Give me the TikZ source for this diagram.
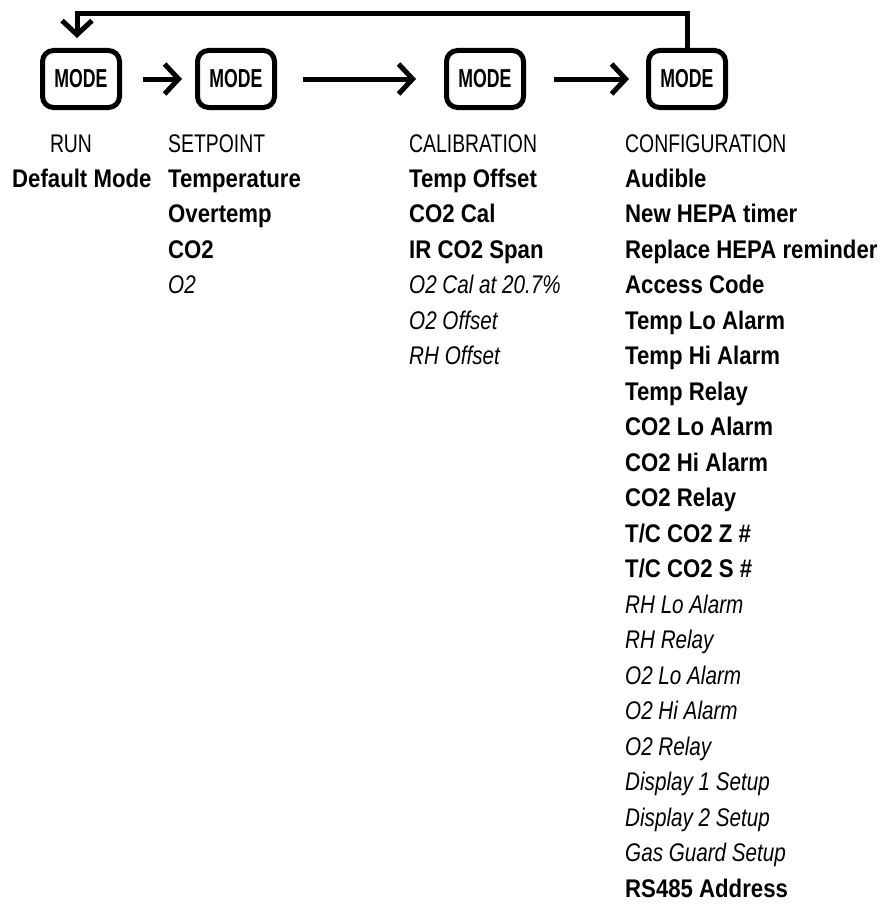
\documentclass[tikz,border=0pt]{standalone}
\usepackage{fontspec}
\usetikzlibrary{arrows.meta,positioning}
\newfontfamily\headfont[FakeStretch=0.76]{Liberation Sans}
\newfontfamily\stdfont[FakeStretch=0.87]{Liberation Sans}
\newfontfamily\optfont[FakeStretch=0.81]{Liberation Sans}
\newfontfamily\keyfont[FakeStretch=0.68]{Liberation Sans}
\begin{document}
\begin{tikzpicture}[
		x=1pt, y=-1pt,
		mode/.style={draw, line width=5pt, rounded corners=11pt, minimum width=77pt, minimum height=57pt, inner sep=0pt, font=\keyfont\bfseries\fontsize{26}{26}\selectfont},
		flow/.style={draw, line width=5pt, -{Straight Barb[length=14pt, width=30pt]}},
		head/.style={inner sep=0pt, font=\headfont\fontsize{25.5}{30}\selectfont},
		std/.style={anchor=base west, inner sep=0pt, font=\stdfont\bfseries\fontsize{25.5}{30}\selectfont},
		opt/.style={anchor=base west, inner sep=0pt, font=\optfont\itshape\fontsize{25.5}{30}\selectfont},
		]
		\useasboundingbox (0,0) rectangle (889,907);

		% mode keys
		\node [mode] (run) at (81,79) {MODE};
		\node [mode] (setpoint) at (236,79) {MODE};
		\node [mode] (calibration) at (485,79) {MODE};
		\node [mode] (configuration) at (687,79) {MODE};

		\draw [flow] ([xshift=21pt]run.east) -- ([xshift=-13pt]setpoint.west);
		\draw [flow] ([xshift=26pt]setpoint.east) -- ([xshift=-28pt]calibration.west);
		\draw [flow] ([xshift=28pt]calibration.east) -- ([xshift=-17pt]configuration.west);

		% back to run
		\coordinate (back) at ([xshift=-4pt, yshift=34pt]run.north);
		\draw [flow] (configuration.north) |- (back) -- ([xshift=-4pt, yshift=10pt]run.north);

		% headings
		\node [head, anchor=base] (runhead) at (71,152) {RUN};
		\node [head, anchor=base west] (sethead) at (168,152) {SETPOINT};
		\node [head, anchor=base west] (calhead) at (409,152) {CALIBRATION};
		\node [head, anchor=base west] (cfghead) at (625,152) {CONFIGURATION};

		% menu items
		\node [std] (run1) at (12,187) {Default Mode};

		\foreach \t/\s [count=\i from 0] in {Temperature/std, Overtemp/std, CO2/std, O2/opt}
			\node [\s] (set\i) at (168,{187+35.5*\i}) {\t};

		\foreach \t/\s [count=\i from 0] in {Temp Offset/std, CO2 Cal/std, IR CO2 Span/std,
			O2 Cal at 20.7\%/opt, O2 Offset/opt, RH Offset/opt}
			\node [\s] (cal\i) at (409,{187+35.5*\i}) {\t};

		\foreach \t/\s [count=\i from 0] in {Audible/std, New HEPA timer/std, Replace HEPA reminder/std,
			Access Code/std, Temp Lo Alarm/std, Temp Hi Alarm/std, Temp Relay/std,
			CO2 Lo Alarm/std, CO2 Hi Alarm/std, CO2 Relay/std, {T/C CO2 Z \#}/std, {T/C CO2 S \#}/std,
			RH Lo Alarm/opt, RH Relay/opt, O2 Lo Alarm/opt, O2 Hi Alarm/opt, O2 Relay/opt,
			Display 1 Setup/opt, Display 2 Setup/opt, Gas Guard Setup/opt, RS485 Address/std}
			\node [\s] (cfg\i) at (625,{187+35.5*\i}) {\t};
	\end{tikzpicture}
\end{document}
